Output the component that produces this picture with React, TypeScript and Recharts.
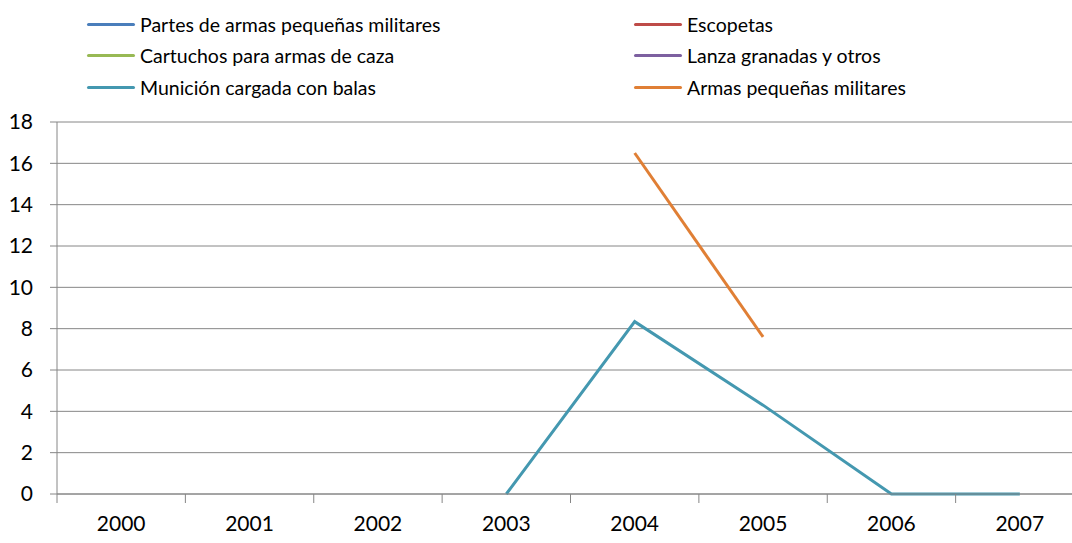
import { LineChart, Line, XAxis, YAxis, CartesianGrid } from 'recharts';

const years = ['2000', '2001', '2002', '2003', '2004', '2005', '2006', '2007'];
const partes: (number | null)[] = [null, null, null, null, null, null, null, null];
const escopetas: (number | null)[] = [null, null, null, null, null, null, null, null];
const cartuchos: (number | null)[] = [null, null, null, null, null, null, null, null];
const lanza: (number | null)[] = [null, null, null, null, null, null, null, null];
const municion: (number | null)[] = [null, null, null, 0, 8.34, 4.3, 0, 0];
const armas: (number | null)[] = [null, null, null, null, 16.5, 7.6, null, null];
const yTicks = [0, 2, 4, 6, 8, 10, 12, 14, 16, 18];

const series = [
  { key: 'partes', name: 'Partes de armas pequeñas militares', color: '#4A7EBB', values: partes },
  { key: 'escopetas', name: 'Escopetas', color: '#BE4B48', values: escopetas },
  { key: 'cartuchos', name: 'Cartuchos para armas de caza', color: '#98B954', values: cartuchos },
  { key: 'lanza', name: 'Lanza granadas y otros', color: '#7D60A0', values: lanza },
  { key: 'municion', name: 'Munición cargada con balas', color: '#4498B0', values: municion },
  { key: 'armas', name: 'Armas pequeñas militares', color: '#E07F35', values: armas },
];

const data = years.map((year, i) => {
  const row: Record<string, string | number | null> = { year };
  series.forEach((s) => {
    row[s.key] = s.values[i];
  });
  return row;
});

const FONT = 'Lato, "Open Sans", sans-serif';
const GRID = '#868686';

const CHART_W = 1100;
const CHART_H = 543;
const MARGIN = { top: 122, right: 16, bottom: 0, left: 0 };
const Y_W = 57;
const bandWidth = (CHART_W - MARGIN.left - MARGIN.right - Y_W) / years.length;

const YearTick = ({ x, y, payload }: any) => (
  <g>
    <line x1={x - bandWidth / 2} y1={y} x2={x - bandWidth / 2} y2={y + 9} stroke={GRID} strokeWidth={1} />
    <text x={x} y={y + 37} textAnchor="middle" fontSize={21} fontFamily={FONT} fill="#000">
      {payload.value}
    </text>
  </g>
);

const LegendBox = () => {
  const cols = [series.filter((_, i) => i % 2 === 0), series.filter((_, i) => i % 2 === 1)];
  const lefts = [87, 634];
  return (
    <>
      {cols.map((col, c) =>
        col.map((s, r) => (
          <div
            key={s.key}
            style={{
              position: 'absolute',
              left: lefts[c],
              top: 24 + r * 31.5 - 12,
              height: 24,
              display: 'flex',
              alignItems: 'center',
              fontFamily: FONT,
              fontSize: 19.5,
              color: '#000',
              whiteSpace: 'nowrap',
            }}
          >
            <span
              style={{
                display: 'inline-block',
                width: 48,
                height: 3,
                borderRadius: 2,
                background: s.color,
                marginRight: 5,
              }}
            />
            {s.name}
          </div>
        ))
      )}
    </>
  );
};

const App = () => (
  <div
    style={{
      position: 'fixed',
      left: 0,
      top: 0,
      width: 1072,
      height: 543,
      overflow: 'hidden',
      background: '#fff',
    }}
  >
    <LegendBox />
    <div style={{ position: 'absolute', left: 0, top: 0 }}>
      <LineChart width={CHART_W} height={CHART_H} data={data} margin={MARGIN}>
        <CartesianGrid vertical={false} stroke={GRID} strokeWidth={1} />
        <XAxis
          dataKey="year"
          scale="band"
          padding={{ left: 0, right: 0 }}
          height={CHART_H - MARGIN.top - MARGIN.bottom - 372}
          axisLine={{ stroke: GRID, strokeWidth: 1 }}
          tickLine={false}
          tickSize={0}
          tickMargin={0}
          interval={0}
          tick={<YearTick />}
        />
        <YAxis
          domain={[0, 18]}
          ticks={yTicks}
          width={Y_W}
          interval={0}
          axisLine={{ stroke: GRID, strokeWidth: 1 }}
          tickLine={{ stroke: GRID, strokeWidth: 1 }}
          tickSize={7}
          tickMargin={17}
          tick={{ fontSize: 21, fontFamily: FONT, fill: '#000' }}
        />
        {series.map((s) => (
          <Line
            key={s.key}
            dataKey={s.key}
            name={s.name}
            stroke={s.color}
            strokeWidth={3}
            dot={false}
            activeDot={false}
            connectNulls={false}
            isAnimationActive={false}
          />
        ))}
      </LineChart>
    </div>
  </div>
);

export default App;
